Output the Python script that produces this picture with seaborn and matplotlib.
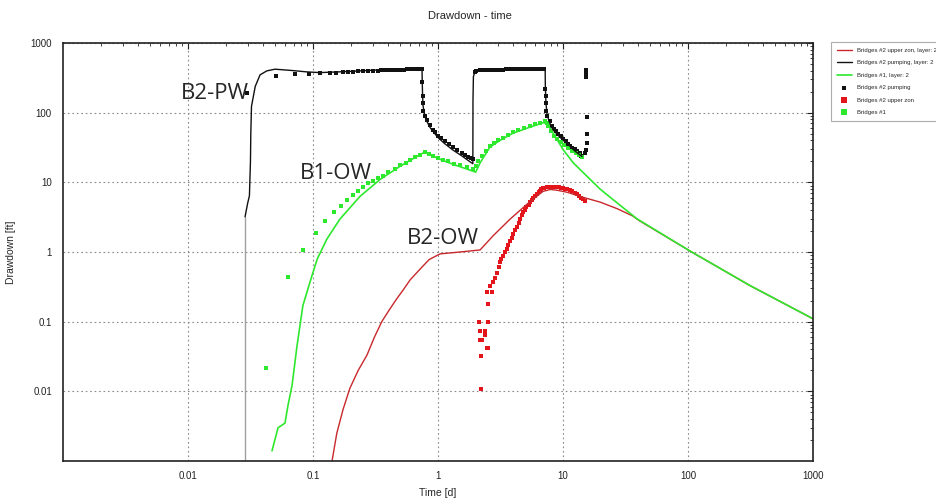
import numpy as np
import pandas as pd
import matplotlib
matplotlib.use("Agg")
import matplotlib.pyplot as plt
import seaborn as sns

# ---------------- data ----------------
# model line start (grey vertical)
start_t = [0.0286, 0.0286]
start_v = [0.001, 3.2]

# Bridges #2 pumping, layer 2 (model, black)
pw_mod_t = [0.0286, 0.0300, 0.0310, 0.0316, 0.0318, 0.0322, 0.0345, 0.0377, 0.0427, 0.0497,
            0.069, 0.089, 0.113, 0.16, 0.238, 0.33, 0.437, 0.60, 0.745,
            0.748, 0.753, 0.76, 0.775, 0.80, 0.86, 0.91, 1.0, 1.13, 1.32, 1.55, 1.75, 1.9,
            1.905, 1.92, 1.97, 2.17, 3.0, 4.5, 6.0, 7.2,
            7.22, 7.3, 7.45, 7.8, 8.3, 9.5, 10.8, 12.5, 14.2]
pw_mod_v = [3.2, 5, 6.4, 20, 50, 123, 238, 349, 398, 421,
            402, 385, 376, 385, 398, 410, 418, 422, 425,
            280, 171, 125, 100, 80, 62, 54, 44, 36, 29, 24, 20.5, 18.5,
            150, 330, 380, 405, 412, 416, 418, 420,
            250, 140, 95, 72, 57, 44, 36, 28, 23.5]

# Bridges #1, layer 2 (model, green)
ow1_mod_t = [0.047, 0.0525, 0.0597, 0.0631, 0.068, 0.0745, 0.083, 0.0946, 0.108, 0.129, 0.164,
             0.238, 0.344, 0.497, 0.718, 0.78, 0.9, 1.1, 1.4, 1.9, 2.0, 2.17, 2.6, 3.13, 4.0,
             5.45, 7.0, 7.3, 7.87, 8.5, 9.3, 10.0, 12.1, 15.5, 19.8, 25, 39, 104, 313, 1000]
ow1_mod_v = [0.0014, 0.003, 0.0035, 0.0063, 0.0122, 0.045, 0.17, 0.37, 0.79, 1.53, 2.96,
             6.3, 11, 17, 25, 27, 24, 20.5, 17.5, 14.5, 14, 19, 32, 40, 51,
             62, 72, 70, 60, 48, 37, 29.6, 19, 12.3, 8.0, 5.7, 3.0, 1.03, 0.33, 0.11]

# Bridges #2 upper zone, layer 2 (model, red)
ow2_mod_t = [0.142, 0.155, 0.174, 0.197, 0.23, 0.27, 0.31, 0.355, 0.41, 0.465, 0.53, 0.6, 0.72,
             0.85, 1.04, 1.5, 2.17, 2.4, 2.75, 3.77, 5.15, 6.9, 7.9, 9.0, 10.8, 14, 19.8, 27,
             36, 41, 104, 313, 1000]
ow2_mod_v = [0.001, 0.0025, 0.0055, 0.011, 0.02, 0.033, 0.06, 0.1, 0.15, 0.21, 0.29, 0.4, 0.57,
             0.78, 0.94, 1.0, 1.07, 1.3, 1.7, 2.96, 4.85, 7.4, 7.9, 7.7, 7.2, 6.2, 5.2, 4.2,
             3.3, 2.8, 1.03, 0.33, 0.11]

# Bridges #2 pumping (observed, black squares)
pw_obs_t = [0.0295, 0.0506, 0.0718, 0.0929, 0.113, 0.136, 0.154, 0.174, 0.191, 0.21, 0.23,
            0.252, 0.277, 0.303, 0.333, 0.35, 0.365, 0.39, 0.414, 0.44, 0.467, 0.5, 0.53,
            0.565, 0.6, 0.64, 0.68, 0.71, 0.74,
            0.745, 0.753, 0.757, 0.765, 0.79, 0.82, 0.86, 0.91, 0.95, 0.995, 1.06, 1.13, 1.22,
            1.32, 1.43, 1.55, 1.65, 1.75, 1.82, 1.9,
            1.97, 2.03, 2.17, 2.3, 2.4, 2.5, 2.65, 2.8, 2.95, 3.1, 3.3, 3.5, 3.7, 3.9, 4.15,
            4.4, 4.7, 5.0, 5.3, 5.6, 5.95, 6.3, 6.65, 7.0,
            7.2, 7.25, 7.3, 7.35, 7.5, 7.8, 8.2, 8.5, 8.8, 9.2, 9.6, 10.0, 10.5, 11.0, 11.4,
            11.9, 12.4, 13.0, 13.6, 14.0,
            15.2, 15.2, 15.2, 15.2, 15.2, 15.5, 15.5, 15.5, 15.4, 15.1]
pw_obs_v = [190, 341, 361, 361, 369, 376, 376, 380, 385, 385, 390,
            394, 394, 398, 402, 404, 405, 408, 410, 412, 414, 415, 416,
            417, 418, 419, 420, 420, 420,
            280, 171, 138, 104, 89, 79, 67, 57, 52, 47, 43, 39, 35,
            32, 29, 26.5, 24.5, 23, 22.3, 21.5,
            389, 402, 411, 412, 413, 414, 414, 415, 415, 416, 416, 417, 417, 418, 418,
            419, 419, 420, 420, 420, 420, 421, 421, 421,
            218, 171, 138, 105, 89, 75, 64, 58, 54, 50, 46, 42, 39, 36, 33,
            31.5, 30, 28, 26, 23.8,
            412, 389, 369, 349, 330, 86, 50, 37, 29.5, 26.5]

# Bridges #2 upper zone (observed, red squares)
ow2_obs_t = [2.21, 2.21, 2.45, 2.50, 2.16, 2.25, 2.39, 2.16, 2.39, 2.5, 2.13, 2.52, 2.47, 2.7,
             2.6, 2.77, 2.85, 2.95, 3.05, 3.13, 3.22, 3.32, 3.43, 3.54, 3.65, 3.77, 3.9, 4.0,
             4.15, 4.3, 4.45, 4.55, 4.7, 4.8, 4.95, 5.1, 5.3, 5.45, 5.6, 5.8, 6.0, 6.2, 6.4,
             6.55, 6.7, 6.9, 7.1, 7.4, 7.7, 8.0, 8.3, 8.6, 8.9, 9.3, 9.6, 10.0, 10.4, 10.8,
             11.3, 11.8, 12.4, 13.0, 13.5, 14.0, 14.5, 15.0]
ow2_obs_v = [0.0107, 0.032, 0.0425, 0.0425, 0.054, 0.054, 0.064, 0.074, 0.074, 0.1, 0.1, 0.18,
             0.27, 0.27, 0.33, 0.37, 0.43, 0.5, 0.6, 0.71, 0.8, 0.88, 1.0, 1.1, 1.25, 1.42, 1.6,
             1.8, 2.05, 2.3, 2.65, 3.0, 3.35, 3.7, 4.05, 4.4, 4.8, 5.2, 5.6, 6.0, 6.4, 6.8, 7.2,
             7.6, 7.9, 8.2, 8.4, 8.5, 8.6, 8.7, 8.7, 8.7, 8.6, 8.5, 8.35, 8.2, 8.1, 8.0,
             7.7, 7.4, 7.1, 6.8, 6.4, 6.0, 5.7, 5.4]

# Bridges #1 (observed, green squares)
ow1_obs_t = [0.0418, 0.0628, 0.0828, 0.105, 0.125, 0.147, 0.167, 0.187, 0.21, 0.23, 0.252,
             0.277, 0.303, 0.33, 0.36, 0.4, 0.45, 0.5, 0.55, 0.6, 0.66, 0.72, 0.78, 0.85,
             0.92, 1.0, 1.1, 1.2, 1.35, 1.5, 1.7, 1.9, 2.0, 2.1, 2.25, 2.4, 2.6, 2.8, 3.0,
             3.3, 3.6, 4.0, 4.4, 4.9, 5.4, 6.0, 6.6, 7.2, 7.4, 7.6, 8.0, 8.5, 9.0, 9.6,
             10.2, 11.0, 11.8, 12.6, 13.4, 14.2]
ow1_obs_v = [0.0213, 0.444, 1.07, 1.87, 2.75, 3.69, 4.58, 5.53, 6.52, 7.5, 8.57,
             9.7, 10.4, 11.5, 12.5, 14, 15.5, 17.5, 19, 21, 23, 25, 27, 25.5,
             24, 22.5, 21, 20, 18.5, 17.5, 16.5, 15.5, 17, 20, 24, 28, 33, 37, 40,
             44, 48, 52, 56, 60, 64, 68, 72, 75, 70, 65, 55, 47, 42, 38,
             34, 31, 28, 26, 24.5, 23]

labels = ["Bridges #2 upper zon, layer: 2", "Bridges #2 pumping, layer: 2", "Bridges #1, layer: 2",
          "Bridges #2 pumping", "Bridges #2 upper zon", "Bridges #1"]

RED_LINE = "#c8282c"
RED_PT = "#e3151b"
GREEN = "#2ee82e"
BLACK = "#111111"

# ---------------- figure ----------------
sns.set_style("white")
plt.rcParams['font.family'] = ['Liberation Sans', 'DejaVu Sans']

fig = plt.figure(figsize=(9.36, 5.04), dpi=100)
ax = fig.add_axes([63/936, 1-461/504, (813-63)/936, (461-43)/504])
ax.set_xscale("log")
ax.set_yscale("log")

sns.lineplot(x=start_t, y=start_v, ax=ax, color="#a0a0a0", lw=1.0, sort=False, estimator=None)
sns.lineplot(x=ow2_mod_t, y=ow2_mod_v, ax=ax, color=RED_LINE, lw=1.0, sort=False,
             estimator=None, label=labels[0])
sns.lineplot(x=pw_mod_t, y=pw_mod_v, ax=ax, color=BLACK, lw=1.0, sort=False,
             estimator=None, label=labels[1])
sns.lineplot(x=ow1_mod_t, y=ow1_mod_v, ax=ax, color=GREEN, lw=1.2, sort=False,
             estimator=None, label=labels[2])

sns.scatterplot(x=pw_obs_t, y=pw_obs_v, ax=ax, color=BLACK, marker="s", s=6,
                linewidth=0, label=labels[3])
sns.scatterplot(x=ow2_obs_t, y=ow2_obs_v, ax=ax, color=RED_PT, marker="s", s=11,
                linewidth=0, label=labels[4])
sns.scatterplot(x=ow1_obs_t, y=ow1_obs_v, ax=ax, color=GREEN, marker="s", s=9,
                linewidth=0, label=labels[5])

ax.set_xlim(0.001, 1000)
ax.set_ylim(0.001, 1000)

xt = [0.01, 0.1, 1, 10, 100, 1000]
yt = [0.01, 0.1, 1, 10, 100, 1000]
ax.set_xticks(xt)
ax.set_xticklabels(["0.01", "0.1", "1", "10", "100", "1000"])
ax.set_yticks(yt)
ax.set_yticklabels(["0.01", "0.1", "1", "10", "100", "1000"])
ax.tick_params(which="both", direction="in", top=True, right=True, labelsize=7, colors="#222222")
ax.tick_params(axis="x", which="major", length=4, width=0.8, pad=7)
ax.tick_params(axis="y", which="major", length=4, width=0.8, pad=8)
ax.tick_params(which="minor", length=2.5, width=0.6)
ax.grid(True, which="major", linestyle=(0, (1.5, 2.5)), color="#8a8a8a", lw=0.8)
for s in ax.spines.values():
    s.set_color("#222222")
    s.set_linewidth(1.2)

ax.set_xlabel("Time [d]", fontsize=7.5, labelpad=5)
ax.set_ylabel("Drawdown [ft]", fontsize=7.5, labelpad=10)
fig.text(470/936, 1-16/504, "Drawdown - time", fontsize=8, ha="center", va="center")

# well annotations
ax.text(0.0087, 190, "B2-PW", fontsize=16, family="Open Sans", va="center", ha="left")
ax.text(0.078, 13.5, "B1-OW", fontsize=16, family="Open Sans", va="center", ha="left")
ax.text(0.56, 1.55, "B2-OW", fontsize=16, family="Open Sans", va="center", ha="left")

# legend outside at top right
h, l = ax.get_legend_handles_labels()
ax.get_legend().remove()
order = [l.index(x) for x in labels]
leg = fig.legend([h[i] for i in order], [l[i] for i in order], loc="upper left",
                 bbox_to_anchor=(828/936, 1-39/504), fontsize=4.3, frameon=True,
                 fancybox=False, edgecolor="#999999", handlelength=2.5, borderpad=1.0,
                 labelspacing=1.2, markerscale=1.3)
leg.get_frame().set_linewidth(0.8)

fig.savefig("out.png", dpi=100)
